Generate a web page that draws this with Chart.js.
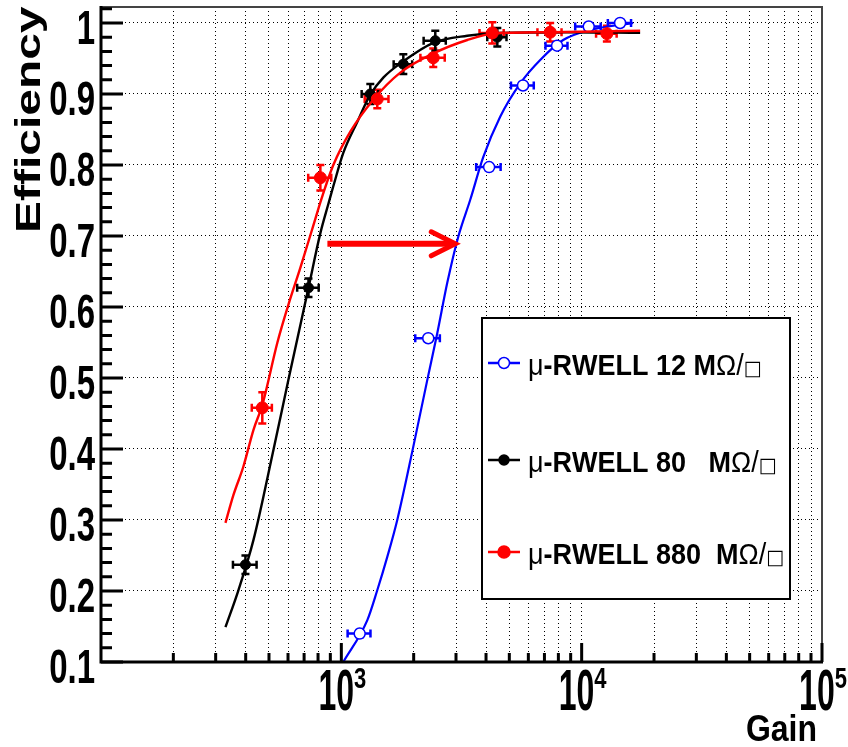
<!DOCTYPE html>
<html>
<head>
<meta charset="utf-8">
<script src="https://cdn.jsdelivr.net/npm/chart.js@4.4.1/dist/chart.umd.min.js"></script>
<style>
  body { margin: 0; background: #fff; }
</style>
</head>
<body>
<canvas id="myChart" width="848" height="747"></canvas>
<script>
// measured points (gain, efficiency) with error bars
const blueGain = [1192, 2300, 4120, 5700, 7900, 10700, 14450];
const blueEff = [0.140, 0.556, 0.797, 0.912, 0.968, 0.995, 1.000];
const blueGainErr = [130, 270, 480, 620, 830, 1300, 1600];
const blueEffErr = [0.005, 0.004, 0.004, 0.004, 0.004, 0.004, 0.004];

const blackGain = [399, 730, 1320, 1811, 2460, 4457];
const blackEff = [0.237, 0.627, 0.900, 0.942, 0.975, 0.980];
const blackGainErr = [45, 75, 105, 160, 260, 410];
const blackEffErr = [0.013, 0.013, 0.014, 0.014, 0.014, 0.013];

const redGain = [469, 818, 1411, 2413, 4248, 7396, 12730];
const redEff = [0.458, 0.782, 0.893, 0.951, 0.986, 0.987, 0.985];
const redGainErr = [45, 90, 160, 280, 490, 850, 1250];
const redEffErr = [0.022, 0.018, 0.013, 0.013, 0.015, 0.013, 0.011];

// fit curves
const blueFitGain = [1019, 1283, 1411, 1553, 1709, 1992, 2278, 2507, 2759, 3066, 3439, 3894, 4581, 5551, 6722, 8377, 10847, 16380];
const blueFitEff = [0.100, 0.159, 0.201, 0.248, 0.300, 0.403, 0.497, 0.563, 0.634, 0.699, 0.751, 0.811, 0.868, 0.915, 0.948, 0.976, 0.990, 1.000];

const blackFitGain = [329.5, 373, 431, 522, 602, 730, 818, 883, 926, 1019, 1166, 1320, 1495, 1811, 2413, 3342, 4581, 8700, 17510];
const blackFitEff = [0.149, 0.201, 0.272, 0.399, 0.497, 0.627, 0.704, 0.745, 0.770, 0.817, 0.861, 0.899, 0.923, 0.946, 0.972, 0.982, 0.986, 0.987, 0.986];

const redFitGain = [329.5, 355.5, 391, 431, 469, 542, 602, 675, 765, 826, 926, 1090, 1359, 1759, 2413, 3342, 4285, 7396, 17510];
const redFitEff = [0.296, 0.335, 0.375, 0.427, 0.462, 0.550, 0.603, 0.655, 0.715, 0.752, 0.800, 0.847, 0.892, 0.930, 0.957, 0.976, 0.985, 0.987, 0.989];

const seriesLabels = ['\u03bc-RWELL 12 M\u03a9/\u25a1', '\u03bc-RWELL 80   M\u03a9/\u25a1', '\u03bc-RWELL 880  M\u03a9/\u25a1'];

// axes
const xMin = 100, xMax = 100000;
const xTicks = [200, 300, 400, 500, 600, 700, 800, 900, 1000, 2000, 3000, 4000, 5000, 6000, 7000, 8000, 9000, 10000,
  20000, 30000, 40000, 50000, 60000, 70000, 80000, 90000, 100000];
const xLabelTicks = [1000, 10000, 100000];
const yMin = 0.1, yMax = 1.0225;
const yTicks = [0.1, 0.2, 0.3, 0.4, 0.5, 0.6, 0.7, 0.8, 0.9, 1.0];
const yTickLabels = ['0.1', '0.2', '0.3', '0.4', '0.5', '0.6', '0.7', '0.8', '0.9', '1'];
const yMinorStep = 0.02;

// the red arrow (gain, efficiency)
const arrowFrom = [875, 0.689];
const arrowTo = [2979, 0.689];

const pts = (xs, ys) => xs.map((x, i) => ({x: x, y: ys[i]}));
const FONT = '"Liberation Sans", Arial, sans-serif';

function stretchText(ctx, text, x, y, font, sx, sy, align) {
    ctx.save();
    ctx.font = font;
    ctx.textAlign = align || 'left';
    ctx.textBaseline = 'alphabetic';
    ctx.translate(x, y);
    ctx.scale(sx, sy);
    ctx.fillText(text, 0, 0);
    ctx.restore();
}

const rootStyle = {
    id: 'rootStyle',
    beforeDatasetsDraw(chart) {
        const ctx = chart.ctx;
        const xs = chart.scales.x, ys = chart.scales.y;
        ctx.save();
        chart.data.datasets.forEach(ds => {
            if (!ds.xErr) return;
            ctx.strokeStyle = ds.borderColor;
            ctx.lineWidth = 2.5;
            ds.data.forEach((p, i) => {
                const px = xs.getPixelForValue(p.x), py = ys.getPixelForValue(p.y);
                const x1 = xs.getPixelForValue(p.x - ds.xErr[i]), x2 = xs.getPixelForValue(p.x + ds.xErr[i]);
                const y1 = ys.getPixelForValue(p.y - ds.yErr[i]), y2 = ys.getPixelForValue(p.y + ds.yErr[i]);
                ctx.beginPath();
                ctx.moveTo(x1, py); ctx.lineTo(x2, py);
                ctx.moveTo(x1, py - 4); ctx.lineTo(x1, py + 4);
                ctx.moveTo(x2, py - 4); ctx.lineTo(x2, py + 4);
                ctx.moveTo(px, y1); ctx.lineTo(px, y2);
                ctx.moveTo(px - 4, y1); ctx.lineTo(px + 4, y1);
                ctx.moveTo(px - 4, y2); ctx.lineTo(px + 4, y2);
                ctx.stroke();
            });
        });
        ctx.restore();
    },
    afterDatasetsDraw(chart) {
        const ctx = chart.ctx;
        const xs = chart.scales.x, ys = chart.scales.y;
        // arrow
        const ax1 = xs.getPixelForValue(arrowFrom[0]), ay = ys.getPixelForValue(arrowFrom[1]);
        const ax2 = xs.getPixelForValue(arrowTo[0]);
        ctx.save();
        ctx.strokeStyle = '#ff0000';
        ctx.lineWidth = 6;
        ctx.beginPath();
        ctx.moveTo(ax1, ay); ctx.lineTo(ax2 - 3, ay);
        ctx.stroke();
        ctx.lineWidth = 5;
        ctx.lineCap = 'round';
        ctx.lineJoin = 'miter';
        ctx.beginPath();
        ctx.moveTo(ax2 - 24, ay - 12); ctx.lineTo(ax2, ay); ctx.lineTo(ax2 - 24, ay + 12);
        ctx.stroke();
        ctx.restore();

        // legend box
        const bx = 482, by = 318, bw = 308, bh = 281;
        ctx.save();
        ctx.fillStyle = '#fff';
        ctx.fillRect(bx, by, bw, bh);
        ctx.strokeStyle = '#000';
        ctx.lineWidth = 2;
        ctx.strokeRect(bx, by, bw, bh);
        const rows = [
            {ds: chart.data.datasets[4], y: 363},
            {ds: chart.data.datasets[2], y: 460},
            {ds: chart.data.datasets[0], y: 552}
        ];
        rows.forEach(r => {
            const ds = r.ds;
            ctx.strokeStyle = ds.borderColor;
            ctx.lineWidth = 2.5;
            ctx.beginPath();
            ctx.moveTo(488, r.y); ctx.lineTo(520, r.y);
            ctx.stroke();
            ctx.beginPath();
            ctx.arc(504, r.y, ds.pointRadius, 0, Math.PI * 2);
            ctx.fillStyle = ds.pointBackgroundColor;
            ctx.fill();
            ctx.lineWidth = 1.5;
            ctx.stroke();
            // text, character by character with ROOT-like font switching
            let tx = 528;
            const base = r.y + 12;
            ctx.fillStyle = '#000';
            for (const ch of ds.label) {
                let f;
                if (ch === '\u25a1') {
                    f = '19px "DejaVu Sans"';
                } else if (ch === '\u03bc' || ch === '\u03a9' || ch === '/') {
                    f = '27px ' + FONT;
                } else {
                    f = 'bold 27px ' + FONT;
                }
                stretchText(ctx, ch, tx, base, f, 1, 1.1, 'left');
                ctx.font = f;
                tx += ctx.measureText(ch).width;
            }
        });
        ctx.restore();
    },
    afterDraw(chart) {
        const ctx = chart.ctx;
        const xs = chart.scales.x, ys = chart.scales.y;
        const L = chart.chartArea.left, R = chart.chartArea.right;
        const T = chart.chartArea.top, B = chart.chartArea.bottom;
        ctx.save();
        // frame
        ctx.strokeStyle = '#444';
        ctx.lineWidth = 2;
        ctx.beginPath();
        ctx.moveTo(L, T); ctx.lineTo(R, T); ctx.lineTo(R, B);
        ctx.stroke();
        ctx.strokeStyle = '#000';
        ctx.lineWidth = 3;
        ctx.beginPath();
        ctx.moveTo(L, T - 1); ctx.lineTo(L, B); ctx.lineTo(R + 1, B);
        ctx.stroke();
        // y ticks (inside)
        ctx.lineWidth = 3;
        ctx.beginPath();
        for (let k = 0; ; k++) {
            const v = yMin + k * yMinorStep;
            if (v > yMax + 1e-9) break;
            const py = ys.getPixelForValue(v);
            const major = k % 5 === 0;
            ctx.moveTo(L, py); ctx.lineTo(L + (major ? 22 : 11), py);
        }
        // x ticks (inside)
        xTicks.forEach(v => {
            const px = xs.getPixelForValue(v);
            const major = xLabelTicks.includes(v);
            ctx.moveTo(px, B); ctx.lineTo(px, B - (major ? 19 : 9));
        });
        ctx.stroke();
        ctx.fillStyle = '#000';
        // y labels
        yTicks.forEach((v, i) => {
            const py = ys.getPixelForValue(v);
            stretchText(ctx, yTickLabels[i], 95, py + 21, 'bold 33px ' + FONT, 1, 1.48, 'right');
        });
        // x labels 10^n
        xLabelTicks.forEach(v => {
            const px = xs.getPixelForValue(v);
            const ex = String(Math.round(Math.log10(v)));
            ctx.font = 'bold 32px ' + FONT;
            const w1 = ctx.measureText('10').width;
            ctx.font = 'bold 22px ' + FONT;
            const w2 = ctx.measureText(ex).width;
            const x0 = px - (w1 + w2) / 2 + 1;
            stretchText(ctx, '10', x0, 710, 'bold 32px ' + FONT, 1, 1.8, 'left');
            stretchText(ctx, ex, x0 + w1, 688, 'bold 22px ' + FONT, 1, 1.33, 'left');
        });
        // axis titles
        stretchText(ctx, 'Gain', 817, 741, 'bold 32px ' + FONT, 1, 1.18, 'right');
        ctx.save();
        ctx.translate(40, 233);
        ctx.rotate(-Math.PI / 2);
        ctx.font = 'bold 35px ' + FONT;
        ctx.scale(1.37, 1);
        ctx.textAlign = 'left';
        ctx.fillText('Efficiency', 0, 0);
        ctx.restore();
        ctx.restore();
    }
};

const ctx = document.getElementById('myChart').getContext('2d');

const myChart = new Chart(ctx, {
    type: 'line',
    data: {
        datasets: [
            {
                label: seriesLabels[2], data: pts(redGain, redEff), xErr: redGainErr, yErr: redEffErr,
                showLine: false, borderColor: '#ff0000', pointBackgroundColor: '#ff0000', pointBorderColor: '#ff0000',
                pointRadius: 6, pointBorderWidth: 1, order: 0
            },
            {
                label: 'red fit', data: pts(redFitGain, redFitEff), borderColor: '#ff0000', borderWidth: 2.4,
                pointRadius: 0, cubicInterpolationMode: 'monotone', order: 1
            },
            {
                label: seriesLabels[1], data: pts(blackGain, blackEff), xErr: blackGainErr, yErr: blackEffErr,
                showLine: false, borderColor: '#000000', pointBackgroundColor: '#000000', pointBorderColor: '#000000',
                pointRadius: 5, pointBorderWidth: 1, order: 2
            },
            {
                label: 'black fit', data: pts(blackFitGain, blackFitEff), borderColor: '#000000', borderWidth: 2.4,
                pointRadius: 0, cubicInterpolationMode: 'monotone', order: 3
            },
            {
                label: seriesLabels[0], data: pts(blueGain, blueEff), xErr: blueGainErr, yErr: blueEffErr,
                showLine: false, borderColor: '#0000ff', pointBackgroundColor: '#ffffff', pointBorderColor: '#0000ff',
                pointRadius: 5.5, pointBorderWidth: 1.5, order: 4
            },
            {
                label: 'blue fit', data: pts(blueFitGain, blueFitEff), borderColor: '#0000ff', borderWidth: 2.2,
                pointRadius: 0, cubicInterpolationMode: 'monotone', order: 5
            }
        ]
    },
    options: {
        responsive: false,
        animation: false,
        layout: { padding: { left: 101, right: 26, top: 7, bottom: 85 } },
        plugins: { legend: { display: false }, tooltip: { enabled: false } },
        scales: {
            x: {
                type: 'logarithmic', min: xMin, max: xMax,
                afterBuildTicks: s => { s.ticks = xTicks.map(v => ({value: v})); },
                ticks: { display: false },
                grid: { color: '#000', lineWidth: 1, drawTicks: false },
                border: { display: false, dash: [1, 3] }
            },
            y: {
                type: 'linear', min: yMin, max: yMax,
                afterBuildTicks: s => { s.ticks = yTicks.map(v => ({value: v})); },
                ticks: { display: false },
                grid: { color: '#000', lineWidth: 1, drawTicks: false },
                border: { display: false, dash: [1, 3] }
            }
        }
    },
    plugins: [rootStyle]
});
</script>
</body>
</html>
